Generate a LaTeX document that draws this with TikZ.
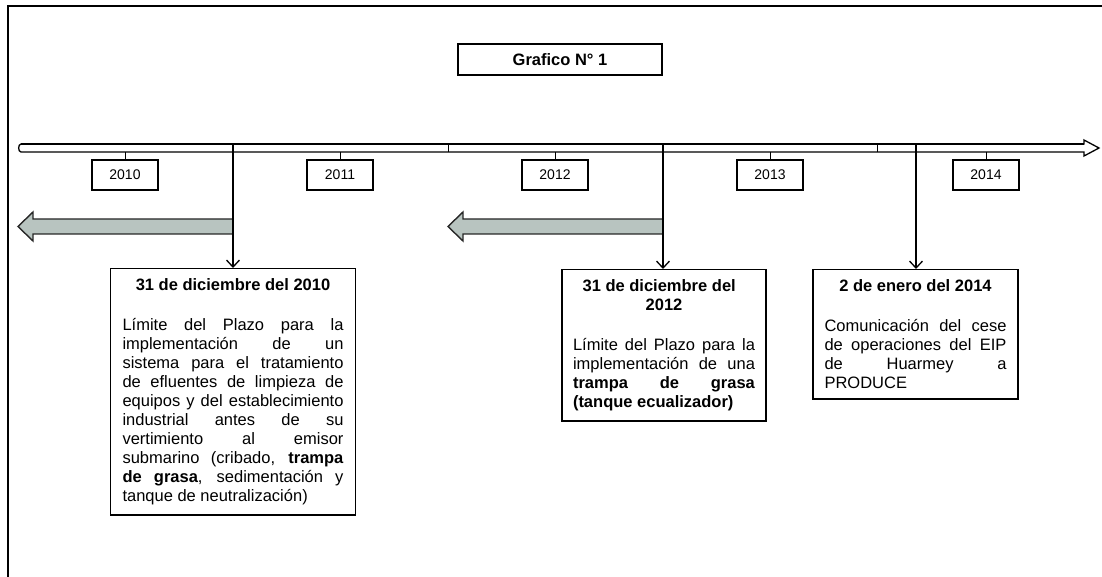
\documentclass[tikz,border=0pt]{standalone}
\usepackage{fontspec}
\setmainfont{Liberation Sans}
\usetikzlibrary{arrows.meta}
\usetikzlibrary{calc}
\definecolor{franjagris}{RGB}{184,196,192}
\tikzset{caja/.style={draw=#1,line width=1.4pt,fill=white},caja/.default=black}
\tikzset{flecha/.style={draw=#1,line width=1.3pt},flecha/.default=black}

\begin{document}
\begin{tikzpicture}[x=1pt,y=-1pt,
                    anio/.style={caja,minimum width=66pt,minimum height=30pt,
                                 inner sep=0pt,font=\fontsize{14}{16}\selectfont},
                    evento/.style={caja,anchor=north,align=justify,inner xsep=11.5pt,
                                   inner ysep=10pt,font=\fontsize{16.5}{19}\selectfont},
                    franja/.style={fill=franjagris,draw=black!85,line width=1.4pt}]

    \useasboundingbox (0,0) rectangle (1102,577);

    % El marco
    \draw [line width=2.2pt] (8,577) -- (8,6) -- (1102,6);

    % El titulo
    \node [caja,minimum width=204pt,minimum height=31pt,
           font=\bfseries\fontsize{16.5}{19}\selectfont] (titulo) at (560,59.5) {Grafico N° 1};

    % La linea de tiempo
    \draw [line width=1.3pt,fill=white,line join=miter]
        (1084,144) -- (21,144) to[out=180,in=180] (21,152) -- (1084,152)
        -- (1084,156) -- (1099,148) -- (1084,140) -- cycle;
    \draw [line width=2pt] (21,144) -- (1084,144);
    \draw [line width=1pt] (448,144) -- (448,152);
    \draw [line width=1pt] (877,144) -- (877,152);

    \coordinate (barra) at (0,152);
    \coordinate (e1) at (233,144);
    \coordinate (e2) at (663,144);
    \coordinate (e3) at (916,144);

    % Los anos
    \foreach \anio/\x in {2010/125,2011/340,2012/555,2013/770,2014/986} {
        \node [anio] (a\anio) at (\x,175) {\anio};
        \draw [line width=1pt] (a\anio.north) -- (a\anio.north |- barra);
    }

    % Las franjas grises
    \foreach \xa/\xb in {18/233,448/663} {
        \draw [franja] (\xb,219) -- (\xa+15,219) -- (\xa+15,212) -- (\xa,226.5)
            -- (\xa+15,241) -- (\xa+15,234) -- (\xb,234) -- cycle;
    }

    % Las cajas de los eventos
    \node [evento,text width=221pt,inner xsep=12pt] (dic2010) at (233,268) {%
        {\centering\bfseries 31 de diciembre del 2010\par}
        \vspace{21pt}
        Límite del Plazo para la\linebreak
        implementación de un\linebreak
        sistema para el tratamiento\linebreak
        de efluentes de limpieza de\linebreak
        equipos y del establecimiento\linebreak
        industrial antes de su\linebreak
        vertimiento al emisor\linebreak
        submarino (cribado, \textbf{trampa}\linebreak
        \textbf{de grasa}, sedimentación y\linebreak
        tanque de neutralización)};

    \node [evento,text width=182pt,inner xsep=11pt] (dic2012) at (664,269) {%
        {\centering\bfseries 31 de diciembre del\newline 2012\par}
        \vspace{21pt}
        \parfillskip=0pt
        Límite del Plazo para la\linebreak
        implementación de una\linebreak
        \textbf{trampa de grasa}\linebreak
        \textbf{(tanque ecualizador)}};

    \node [evento,text width=182pt] (ene2014) at (915.5,269) {%
        {\centering\bfseries 2 de enero del 2014\par}
        \vspace{21pt}
        Comunicación del cese\linebreak
        de operaciones del EIP\linebreak
        de Huarmey a\linebreak
        PRODUCE};

    % Las flechas hacia los eventos
    \draw [flecha,-{Straight Barb[length=7pt,width=13pt]}] (e1) -- (e1 |- dic2010.north);
    \draw [flecha,-{Straight Barb[length=7pt,width=13pt]}] (e2) -- (e2 |- dic2012.north);
    \draw [flecha,-{Straight Barb[length=7pt,width=13pt]}] (e3) -- (e3 |- ene2014.north);

\end{tikzpicture}
\end{document}
